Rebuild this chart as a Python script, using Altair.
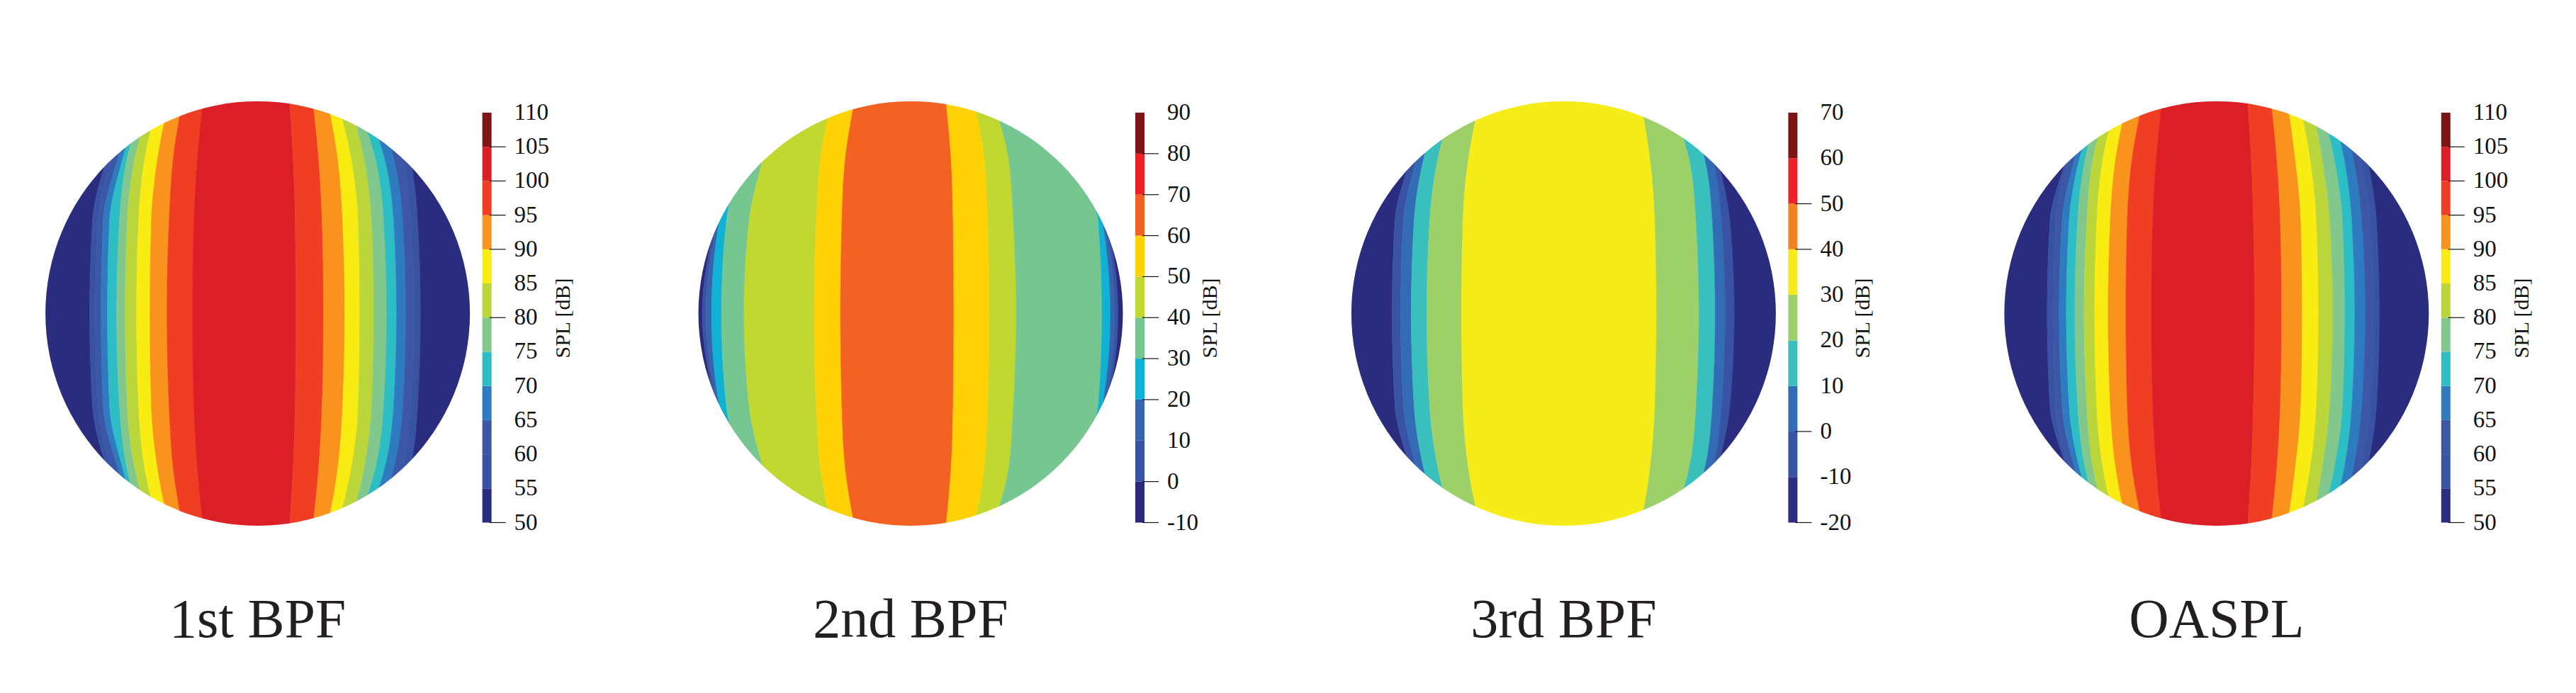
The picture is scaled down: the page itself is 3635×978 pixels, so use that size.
import altair as alt
import pandas as pd

FONT = "Liberation Serif"

# distance from the equator of the disc where the band edges were read
ROWS = [0, 130, 220, 300]
DISC_RADIUS = 299.5

# band edges, left to right, x from disc centre at each of ROWS
EDGES_1ST = [
    [-237, -233, -212, -180], [-229, -225, -206, -174], [-221, -218, -197, -171],
    [-212, -209, -190, -166], [-199, -195, -184, -160], [-187, -184, -173, -150],
    [-171, -168, -159, -140], [-152, -150, -141, -125], [-128, -125, -119, -106],
    [-92, -90, -85, -77], [54, 53, 50, 45], [93, 91, 86, 78],
    [123, 120, 113, 99], [144, 142, 132, 113], [164, 161, 150, 130],
    [182, 178, 166, 139], [196, 192, 179, 150], [209, 205, 192, 165],
    [221, 216, 204, 173], [230, 226, 215, 185],
]
EDGES_2ND = [
    [-294, -275, -249, -218], [-289, -272, -246, -216], [-281, -270, -244, -213],
    [-267, -260, -236, -208], [-235, -228, -208, -188], [-136, -133, -127, -111],
    [-99, -97, -92, -79], [61, 60, 57, 50], [111, 109, 104, 90],
    [149, 145, 138, 116], [270, 265, 226, 200], [282, 271, 231, 205],
    [288, 274, 233, 208], [293, 277, 236, 210],
]
EDGES_3RD = [
    [-242, -238, -216, -193], [-230, -226, -207, -183], [-215, -211, -197, -173],
    [-193, -189, -177, -155], [-144, -142, -134, -118], [131, 129, 122, 109],
    [191, 187, 177, 149], [214, 210, 199, 169], [228, 223, 210, 179],
    [241, 235, 217, 192],
]
EDGES_OASPL = [
    [-239, -235, -211, -185], [-230, -227, -208, -180], [-222, -218, -200, -175],
    [-212, -208, -193, -167], [-200, -196, -185, -162], [-187, -183, -174, -152],
    [-172, -169, -160, -141], [-153, -150, -142, -126], [-128, -126, -119, -104],
    [-92, -90, -85, -77], [54, 52, 49, 44], [92, 90, 85, 77],
    [121, 119, 111, 100], [144, 141, 132, 117], [164, 160, 149, 134],
    [181, 178, 166, 147], [195, 191, 180, 160], [210, 205, 193, 172],
    [221, 217, 203, 183], [230, 226, 213, 195],
]

COLORS_1ST = ["#2a2d7f", "#3953a4", "#3b57a6", "#2e7bbf", "#2dbdc4", "#82c88d",
              "#bbd63a", "#f9ec13", "#f9931d", "#ef3e23", "#dc1f26", "#7d1416"]
COLORS_2ND = ["#2a2a7c", "#3953a4", "#3863ad", "#0fb1d5", "#76c692",
              "#c0d830", "#ffd205", "#f46223", "#ed2026", "#7d1416"]
COLORS_3RD = ["#2a2d7f", "#3953a4", "#326cb5", "#39c0bc", "#9ed06a",
              "#f6ec1a", "#f58220", "#ed2129", "#7d1416"]

LEVELS_1ST = list(range(50, 111, 5))
LEVELS_2ND = list(range(-10, 91, 10))
LEVELS_3RD = list(range(-20, 71, 10))

TICKS_1ST = [105, 100, 95, 90, 80, 50]
TICKS_2ND = [80, 70, 60, 50, 40, 30, 20, 0, -10]
TICKS_3RD = [50, 40, 0, -20]

PANELS = [
    ("1st BPF", EDGES_1ST, COLORS_1ST, LEVELS_1ST, TICKS_1ST, 431),
    ("2nd BPF", EDGES_2ND, COLORS_2ND, LEVELS_2ND, TICKS_2ND, 423),
    ("3rd BPF", EDGES_3RD, COLORS_3RD, LEVELS_3RD, TICKS_3RD, 423),
    ("OASPL", EDGES_OASPL, COLORS_1ST, LEVELS_1ST, TICKS_1ST, 431),
]

x_scale = alt.Scale(domain=[-355.6, 474.4])
y_scale = alt.Scale(domain=[-515.6, 434.4])
bar_range = [729.5, 151]


def X(field):
    return alt.X(field, scale=x_scale, axis=None)


def Y(field):
    return alt.Y(field, scale=y_scale, axis=None)


def make_panel(name, edges, colors, levels, ticks, spl_x):
    outer = DISC_RADIUS + 6
    cols = [[-outer] * len(ROWS)] + edges + [[outer] * len(ROWS)]
    # bands climb to the middle of the disc and come down again
    n_up = (len(edges) + 1) // 2
    order = list(range(n_up)) + list(range(n_up, -1, -1))
    rows = []
    for i, lev in enumerate(order):
        for j, r in enumerate(ROWS):
            for sign in ([1, -1] if r else [1]):
                rows.append({"band": i, "color": colors[lev], "dy": sign * r,
                             "x0": cols[i][j], "x1": cols[i + 1][j]})
    bands = alt.Chart(pd.DataFrame(rows)).mark_area(
        orient="horizontal", interpolate="monotone", strokeWidth=0.6
    ).encode(
        y=Y("dy:Q"),
        x=X("x0:Q"),
        x2="x1:Q",
        color=alt.Color("color:N", scale=None),
        stroke=alt.Stroke("color:N", scale=None),
        detail="band:N",
    )

    # white ring that trims the bands to the round outline
    mask = alt.Chart(pd.DataFrame({"x": [0], "y": [0]})).mark_arc(
        radius=DISC_RADIUS, radius2=DISC_RADIUS + 130, theta=0, theta2=6.2832,
        color="white", clip=True
    ).encode(x=X("x:Q"), y=Y("y:Q"))

    spl_scale = alt.Scale(domain=[levels[0], levels[-1]], range=bar_range)
    bar_df = pd.DataFrame({
        "lo": levels[:-1], "hi": levels[1:], "color": colors,
        "x0": [317] * len(colors), "x1": [330] * len(colors),
    })
    bar = alt.Chart(bar_df).mark_rect().encode(
        x=X("x0:Q"), x2="x1:Q",
        y=alt.Y("lo:Q", scale=spl_scale, axis=None), y2="hi:Q",
        color=alt.Color("color:N", scale=None),
    )

    tick_df = pd.DataFrame({"v": ticks, "x0": [327] * len(ticks), "x1": [350] * len(ticks)})
    tick = alt.Chart(tick_df).mark_rule(color="#111111", strokeWidth=1.2).encode(
        x=X("x0:Q"), x2="x1:Q",
        y=alt.Y("v:Q", scale=spl_scale, axis=None),
    )

    label_df = pd.DataFrame({"v": levels, "x": [362] * len(levels), "t": [str(v) for v in levels]})
    label = alt.Chart(label_df).mark_text(
        font=FONT, fontSize=33, align="left", baseline="middle", color="#111111"
    ).encode(
        x=X("x:Q"), y=alt.Y("v:Q", scale=spl_scale, axis=None), text="t:N"
    )

    spl = alt.Chart(pd.DataFrame({"x": [spl_x], "y": [-6.6], "t": ["SPL [dB]"]})).mark_text(
        font=FONT, fontSize=30, angle=270, align="center", baseline="middle", color="#111111"
    ).encode(x=X("x:Q"), y=Y("y:Q"), text="t:N")

    title = alt.Chart(pd.DataFrame({"x": [0], "y": [-456.6], "t": [name]})).mark_text(
        font=FONT, fontSize=78, align="center", baseline="alphabetic", color="#231f20"
    ).encode(x=X("x:Q"), y=Y("y:Q"), text="t:N")

    return alt.layer(bands, mask, bar, tick, label, spl, title).resolve_scale(
        y="independent"
    ).properties(width=830, height=950)


chart = alt.hconcat(*[make_panel(*p) for p in PANELS], spacing=91.4).properties(
    padding=0
).configure_view(stroke=None)

chart.save("out.html", embed_options={"renderer": "svg", "actions": False})
